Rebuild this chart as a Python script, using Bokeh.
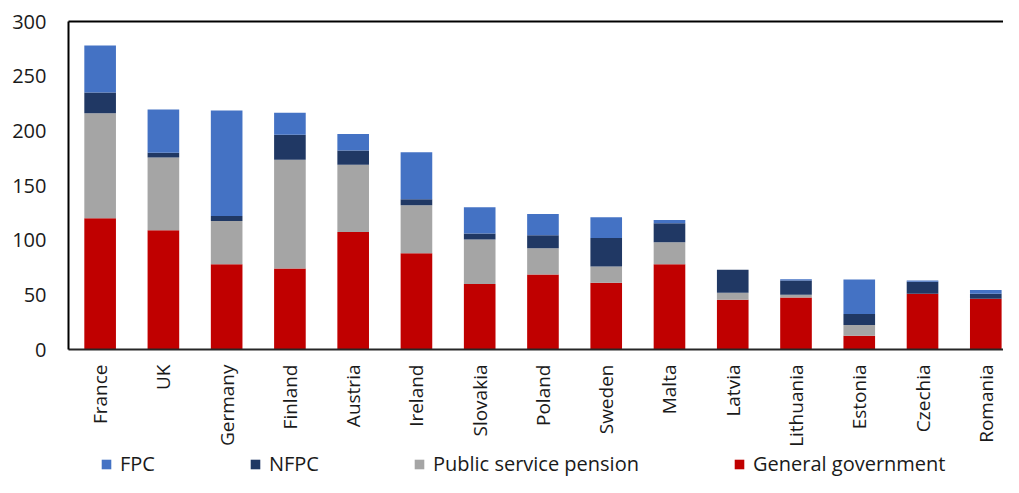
import math
from bokeh.plotting import figure
from bokeh.layouts import column
from bokeh.models import (ColumnDataSource, Range1d, FixedTicker, Legend, LegendItem,
                          LinearAxis)
from bokeh.embed import file_html
from bokeh.resources import INLINE

countries = ["France", "UK", "Germany", "Finland", "Austria", "Ireland", "Slovakia",
             "Poland", "Sweden", "Malta", "Latvia", "Lithuania", "Estonia", "Czechia", "Romania"]
general_government = [120, 109, 78, 74, 107.5, 88, 60, 68.5, 61, 78, 45.5, 47.5, 12.5, 51, 46.5]
public_service_pension = [96, 66.5, 39.5, 99.5, 61.5, 44, 40.5, 24, 15, 20, 6.5, 2.5, 10, 0, 0]
nfpc = [19, 4.5, 4.5, 23, 13, 5.5, 5.5, 12, 26, 17.5, 21, 13, 10, 11, 4.5]
fpc = [43, 39.5, 96.5, 20, 15, 43, 24, 19.5, 19, 3, 0, 1.2, 31.5, 1, 3.5]
series_labels = ["General government", "Public service pension", "NFPC", "FPC"]
y_ticks = [0, 50, 100, 150, 200, 250, 300]

FONT = "Open Sans"
colors = ["#C00000", "#A5A5A5", "#203864", "#4472C4"]
stackers = ["gg", "psp", "nfpc", "fpc"]

src = ColumnDataSource(dict(
    x=list(range(len(countries))),
    gg=general_government,
    psp=public_service_pension,
    nfpc=nfpc,
    fpc=fpc,
))

p = figure(width=1003, height=449, output_backend="svg", toolbar_location=None,
           x_range=Range1d(-0.5, 14.28), y_range=Range1d(0, 300),
           min_border_left=68, min_border_right=0, min_border_top=21, min_border_bottom=99)

p.vbar_stack(stackers, x="x", width=0.5, color=colors, source=src, line_color=None)

p.grid.visible = False
p.outline_line_color = None
p.background_fill_color = "white"
p.border_fill_color = "white"

# y axis
ya = p.yaxis[0]
ya.ticker = FixedTicker(ticks=y_ticks)
ya.major_tick_out = 0
ya.major_tick_in = 0
ya.minor_tick_out = 0
ya.minor_tick_in = 0
ya.axis_line_color = "black"
ya.axis_line_width = 2
ya.major_label_standoff = 22
ya.major_label_text_font = FONT
ya.major_label_text_font_size = "20px"
ya.major_label_text_color = "#1a1a1a"

# x axis
xa = p.xaxis[0]
xa.ticker = FixedTicker(ticks=list(range(len(countries))))
xa.major_label_overrides = {i: c for i, c in enumerate(countries)}
xa.major_label_orientation = math.pi / 2
xa.major_tick_out = 0
xa.major_tick_in = 0
xa.minor_tick_out = 0
xa.minor_tick_in = 0
xa.axis_line_color = "#262626"
xa.axis_line_width = 2
xa.major_label_standoff = 15
xa.major_label_text_font = FONT
xa.major_label_text_font_size = "19px"
xa.major_label_text_color = "#1a1a1a"

# top border line
top = LinearAxis(ticker=FixedTicker(ticks=[]), major_tick_out=0, major_tick_in=0,
                 minor_tick_out=0, minor_tick_in=0, major_label_text_font_size="0px",
                 axis_line_color="black", axis_line_width=2)
p.add_layout(top, "above")

# legend strip below the chart
leg = figure(width=1003, height=28, output_backend="svg", toolbar_location=None,
             x_axis_type=None, y_axis_type=None, min_border=0,
             x_range=Range1d(-0.5, 14.28), y_range=Range1d(0, 300))
leg.outline_line_color = None
leg.grid.visible = False
leg_r = leg.vbar_stack(stackers, x="x", width=0.5, color=colors, source=src, line_color=None)
for r in leg_r:
    r.visible = False

legend = Legend(items=[
    LegendItem(label=series_labels[3], renderers=[leg_r[3]]),
    LegendItem(label=series_labels[2], renderers=[leg_r[2]]),
    LegendItem(label=series_labels[1], renderers=[leg_r[1]]),
    LegendItem(label=series_labels[0], renderers=[leg_r[0]]),
], orientation="horizontal", location=(32, 0), padding=0, margin=0, spacing=94,
    glyph_width=12, glyph_height=12, label_standoff=8, label_height=20,
    label_text_font=FONT, label_text_font_size="20px", label_text_color="#1a1a1a",
    border_line_color=None, background_fill_alpha=0, inactive_fill_alpha=0)
leg.add_layout(legend, "center")

layout = column(p, leg, spacing=0)
open("out.html", "w").write(file_html(layout, INLINE))
